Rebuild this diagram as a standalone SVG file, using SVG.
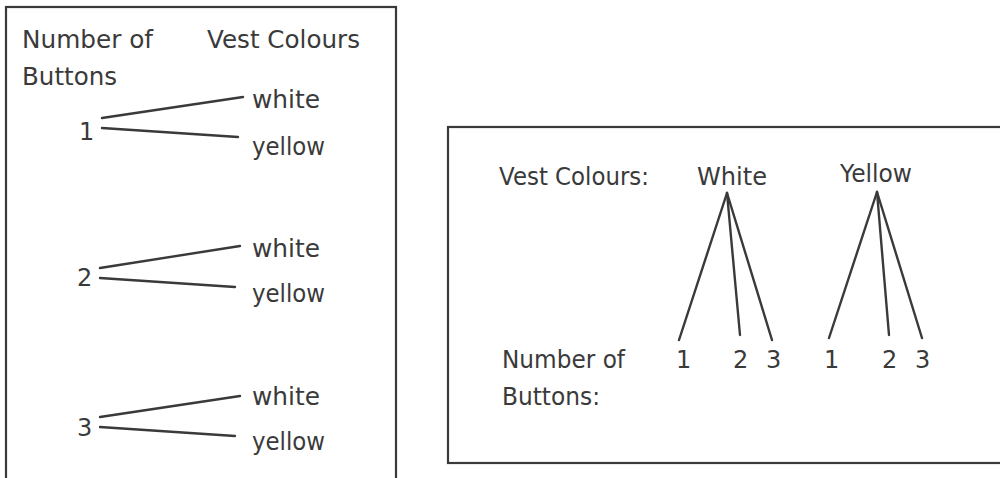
<svg xmlns="http://www.w3.org/2000/svg" width="1000" height="478" viewBox="0 0 1000 478">
  <style>
    .frame { fill: none; stroke: #3a3a3a; stroke-width: 2.2; }
    .edge { stroke: #3a3a3a; stroke-width: 2.4; stroke-linecap: round; fill: none; }
    text { font-family: "Comic Sans MS", "DejaVu Sans", sans-serif; font-size: 24px; fill: #3a3a3a; }
  </style>
  <rect width="1000" height="478" fill="#ffffff"/>

  <!-- Left tree: buttons branching to vest colours -->
  <g id="left-panel">
    <rect class="frame" x="6" y="7" width="390" height="500"/>
    <text x="22" y="48" textLength="131" lengthAdjust="spacingAndGlyphs">Number of</text>
    <text x="207" y="48" textLength="153" lengthAdjust="spacingAndGlyphs">Vest Colours</text>
    <text x="22" y="85" textLength="95" lengthAdjust="spacingAndGlyphs">Buttons</text>
  </g>

  <g id="b1">
    <text x="79" y="140">1</text>
  </g>
  <g id="b1-white"><text x="252" y="108" textLength="68" lengthAdjust="spacingAndGlyphs">white</text></g>
  <g id="b1-yellow"><text x="252" y="155" textLength="73" lengthAdjust="spacingAndGlyphs">yellow</text></g>

  <g id="b2">
    <text x="77" y="286">2</text>
  </g>
  <g id="b2-white"><text x="252" y="257" textLength="68" lengthAdjust="spacingAndGlyphs">white</text></g>
  <g id="b2-yellow"><text x="252" y="302" textLength="73" lengthAdjust="spacingAndGlyphs">yellow</text></g>

  <g id="b3">
    <text x="77" y="436">3</text>
  </g>
  <g id="b3-white"><text x="252" y="405" textLength="68" lengthAdjust="spacingAndGlyphs">white</text></g>
  <g id="b3-yellow"><text x="252" y="450" textLength="73" lengthAdjust="spacingAndGlyphs">yellow</text></g>

  <!-- Right tree: vest colours branching to buttons -->
  <g id="right-panel">
    <rect class="frame" x="448" y="127" width="600" height="336"/>
    <text x="499" y="185" textLength="150" lengthAdjust="spacingAndGlyphs">Vest Colours:</text>
    <text x="502" y="368" textLength="123" lengthAdjust="spacingAndGlyphs">Number of</text>
    <text x="502" y="405" textLength="98" lengthAdjust="spacingAndGlyphs">Buttons:</text>
  </g>

  <g id="white"><text x="697" y="185" textLength="70" lengthAdjust="spacingAndGlyphs">White</text></g>
  <g id="yellow"><text x="840" y="182" textLength="72" lengthAdjust="spacingAndGlyphs">Yellow</text></g>

  <g id="w1"><text x="676" y="368">1</text></g>
  <g id="w2"><text x="733" y="368">2</text></g>
  <g id="w3"><text x="766" y="368">3</text></g>
  <g id="y1"><text x="824" y="368">1</text></g>
  <g id="y2"><text x="882" y="368">2</text></g>
  <g id="y3"><text x="915" y="368">3</text></g>

  <g id="connectors">
    <line class="edge" x1="102" y1="118" x2="243" y2="97"/>
    <line class="edge" x1="102" y1="128" x2="238" y2="137"/>
    <line class="edge" x1="100" y1="268" x2="240" y2="246"/>
    <line class="edge" x1="100" y1="278" x2="235" y2="287"/>
    <line class="edge" x1="100" y1="417" x2="240" y2="396"/>
    <line class="edge" x1="100" y1="427" x2="235" y2="436"/>

    <line class="edge" x1="727" y1="193" x2="679" y2="340"/>
    <line class="edge" x1="727" y1="193" x2="740" y2="335"/>
    <line class="edge" x1="727" y1="193" x2="772" y2="340"/>
    <line class="edge" x1="877" y1="192" x2="829" y2="338"/>
    <line class="edge" x1="877" y1="192" x2="889" y2="335"/>
    <line class="edge" x1="877" y1="192" x2="922" y2="338"/>
  </g>
</svg>
